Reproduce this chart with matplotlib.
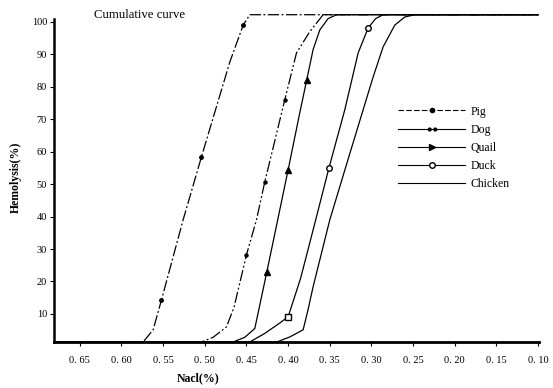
import matplotlib
matplotlib.use("Agg")
import matplotlib.pyplot as plt
from matplotlib.lines import Line2D
from matplotlib.path import Path

plt.rcParams['font.family'] = ['Liberation Serif', 'DejaVu Serif']

# NaCl concentration (%) vs hemolysis (%)
pig_x = [0.681, 0.574, 0.562, 0.552, 0.526, 0.504, 0.470, 0.454, 0.446, 0.10]
pig_y = [1.35, 1.35, 5.1, 14.3, 39.0, 58.4, 87.6, 99.0, 102.2, 102.2]
pig_marks = [3, 5, 7]

dog_x = [0.681, 0.504, 0.490, 0.474, 0.465, 0.450, 0.438, 0.428, 0.404, 0.390, 0.374, 0.358, 0.10]
dog_y = [1.35, 1.35, 2.8, 6.0, 12.0, 28.2, 39.0, 50.7, 76.0, 90.4, 97.0, 102.2, 102.2]
dog_marks = [5, 7, 8]

quail_x = [0.681, 0.466, 0.452, 0.440, 0.4256, 0.416, 0.400, 0.386, 0.3776, 0.370, 0.362, 0.352, 0.342, 0.10]
quail_y = [1.35, 1.35, 2.8, 5.5, 22.9, 34.7, 54.4, 72.0, 82.2, 91.5, 97.5, 101.0, 102.2, 102.2]
quail_marks = [4, 6, 8]

duck_x = [0.681, 0.446, 0.428, 0.410, 0.400, 0.385, 0.370, 0.351, 0.332, 0.316, 0.304, 0.295, 0.286, 0.10]
duck_y = [1.35, 1.35, 4.0, 7.2, 9.1, 21.0, 35.9, 55.0, 72.9, 90.4, 98.1, 101.0, 102.2, 102.2]
duck_marks = [7, 10]
duck_square = 4

chicken_x = [0.681, 0.4136, 0.398, 0.382, 0.376, 0.370, 0.350, 0.330, 0.310, 0.298, 0.286, 0.272, 0.260, 0.248, 0.10]
chicken_y = [1.35, 1.35, 2.9, 5.1, 11.4, 18.4, 39.0, 56.0, 72.9, 83.0, 92.3, 99.0, 101.5, 102.2, 102.2]

x_ticks = [0.65, 0.60, 0.55, 0.50, 0.45, 0.40, 0.35, 0.30, 0.25, 0.20, 0.15, 0.10]
x_labels = ['0. 65', '0. 60', '0. 55', '0. 50', '0. 45', '0. 40', '0. 35',
            '0. 30', '0. 25', '0. 20', '0. 15', '0. 10']
y_ticks = [10, 20, 30, 40, 50, 60, 70, 80, 90, 100]

fig = plt.figure(figsize=(5.53, 3.88), dpi=100)
ax = fig.add_axes([0.0976, 0.1186, 0.877, 0.851])

lw = 0.9
two_dots = Path.make_compound_path(Path.circle((-1.2, 0), 0.6), Path.circle((1.2, 0), 0.6))

ax.plot(pig_x, pig_y, color='k', lw=lw, dashes=(9, 2, 1.5, 2),
        marker='o', ms=2.5, markevery=pig_marks, clip_on=False)
ax.plot(dog_x, dog_y, color='k', lw=lw, dashes=(9, 2, 1.5, 2, 1.5, 2),
        marker='o', ms=2.2, markevery=dog_marks, clip_on=False)
ax.plot(quail_x, quail_y, color='k', lw=lw, marker='^', ms=4.5,
        markevery=quail_marks, clip_on=False)
ax.plot(duck_x, duck_y, color='k', lw=lw, marker='o', ms=4, mfc='white',
        mec='k', markevery=duck_marks, clip_on=False)
ax.plot(duck_x[duck_square], duck_y[duck_square], 's', ms=4, mfc='white', mec='k')
ax.plot(chicken_x, chicken_y, color='k', lw=lw, clip_on=False)

ax.set_xlim(0.681, 0.099)
ax.set_ylim(1.35, 103.1)
ax.set_xticks(x_ticks)
ax.set_xticklabels(x_labels)
ax.set_yticks(y_ticks)
ax.tick_params(labelsize=7.5, length=3, width=0.8, direction='out', pad=2)
ax.tick_params(axis='x', pad=7)

for s in ['top', 'right']:
    ax.spines[s].set_visible(False)
ax.spines['left'].set_linewidth(1.8)
ax.spines['bottom'].set_linewidth(2.0)
ax.spines['left'].set_bounds(1.35, 100.8)

ax.set_xlabel('Nacl(%)', fontsize=8.5, fontweight='bold')
ax.xaxis.set_label_coords(0.297, -0.092)
ax.set_ylabel('Hemolysis(%)', fontsize=8.5, fontweight='bold')
ax.yaxis.set_label_coords(-0.066, 0.5)
fig.text(0.253, 0.961, 'Cumulative curve', fontsize=9.2, ha='center', va='center')

handles = [
    Line2D([], [], color='k', lw=0.8, dashes=(5, 2), marker='o', ms=3),
    Line2D([], [], color='k', lw=0.8, marker=two_dots, ms=6),
    Line2D([], [], color='k', lw=0.8, marker='>', ms=4.5),
    Line2D([], [], color='k', lw=0.8, marker='o', ms=4, mfc='white'),
    Line2D([], [], color='k', lw=0.8),
]
labels = ['Pig', 'Dog', 'Quail', 'Duck', 'Chicken']
ax.legend(handles, labels, loc='upper left', bbox_to_anchor=(0.72, 0.728),
          bbox_transform=fig.transFigure, frameon=False, fontsize=8.5,
          handlelength=5.7, handletextpad=0.4, labelspacing=0.52,
          borderpad=0, borderaxespad=0, numpoints=1)

fig.savefig('out.png', dpi=100)
